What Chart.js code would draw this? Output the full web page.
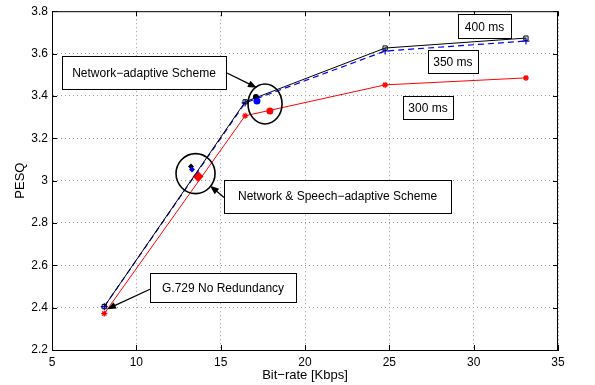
<!DOCTYPE html>
<html>
<head>
<meta charset="utf-8">
<script src="https://cdn.jsdelivr.net/npm/chart.js@4/dist/chart.umd.min.js"></script>
<style>
  html, body { margin: 0; padding: 0; background: #fff; }
</style>
</head>
<body>
<canvas id="pesqChart" width="595" height="385"></canvas>
<script>
// values
var bitrate = [8.1, 16.45, 24.75, 33.1];
var pesq400 = [2.405, 3.372, 3.626, 3.673];
var pesq350 = [2.405, 3.367, 3.612, 3.659];
var pesq300 = [2.372, 3.306, 3.452, 3.485];

// network-adaptive scheme points (black, blue, red)
var netRate = [17.09, 17.15, 17.92];
var netPesq = [3.395, 3.376, 3.329];
// network & speech-adaptive scheme points
var speechRate = [13.24, 13.3, 13.66];
var speechPesq = [3.066, 3.052, 3.019];

var xTicks = [5, 10, 15, 20, 25, 30, 35];
var yTicks = [2.2, 2.4, 2.6, 2.8, 3, 3.2, 3.4, 3.6, 3.8];

var FONT = "'Liberation Sans', Arial, sans-serif";

// callouts: text boxes placed in data units
var labels = [
  {text: 'Network\u2212adaptive Scheme', x: 10.455, y: 3.511, w: 164, h: 33},
  {text: 'Network & Speech\u2212adaptive Scheme', x: 21.93, y: 2.927, w: 227, h: 33},
  {text: 'G.729 No Redundancy', x: 15.14, y: 2.494, w: 146, h: 29},
  {text: '400 ms', x: 30.64, y: 3.729, w: 53, h: 24},
  {text: '350 ms', x: 28.77, y: 3.562, w: 50, h: 23},
  {text: '300 ms', x: 27.29, y: 3.346, w: 50, h: 23}
];
var arrows = [
  {x1: 15.375, y1: 3.508, x2: 17.15, y2: 3.438},
  {x1: 15.2, y1: 2.92, x2: 14.37, y2: 2.976},
  {x1: 10.81, y1: 2.487, x2: 8.26, y2: 2.393}
];
var circles = [
  {x: 17.63, y: 3.362, rx: 17, ry: 20},
  {x: 13.51, y: 3.033, rx: 19.5, ry: 20}
];

function pts(xs, ys) {
  return xs.map(function(v, i) { return {x: v, y: ys[i]}; });
}

var decor = {
  id: 'decor',
  afterDraw: function(chart) {
    var ctx = chart.ctx, a = chart.chartArea;
    var sx = chart.scales.x, sy = chart.scales.y;
    ctx.save();
    ctx.strokeStyle = '#000';
    ctx.lineWidth = 1;
    ctx.setLineDash([]);

    // top and right frame
    ctx.beginPath();
    ctx.moveTo(a.left, a.top + 0.5);
    ctx.lineTo(a.right - 0.5, a.top + 0.5);
    ctx.lineTo(a.right - 0.5, a.bottom);
    ctx.stroke();

    // inward tick marks
    ctx.beginPath();
    xTicks.forEach(function(t) {
      var px = Math.round(sx.getPixelForValue(t)) + 0.5;
      ctx.moveTo(px, a.bottom); ctx.lineTo(px, a.bottom - 5);
      ctx.moveTo(px, a.top); ctx.lineTo(px, a.top + 5);
    });
    yTicks.forEach(function(t) {
      var py = Math.round(sy.getPixelForValue(t)) + 0.5;
      ctx.moveTo(a.left, py); ctx.lineTo(a.left + 5, py);
      ctx.moveTo(a.right, py); ctx.lineTo(a.right - 5, py);
    });
    ctx.stroke();

    // circles round the adaptive points
    ctx.lineWidth = 1.6;
    circles.forEach(function(c) {
      ctx.beginPath();
      ctx.ellipse(sx.getPixelForValue(c.x), sy.getPixelForValue(c.y), c.rx, c.ry, 0, 0, 2 * Math.PI);
      ctx.stroke();
    });

    // arrows
    ctx.lineWidth = 1.3;
    ctx.fillStyle = '#000';
    arrows.forEach(function(r) {
      var x1 = sx.getPixelForValue(r.x1), y1 = sy.getPixelForValue(r.y1);
      var x2 = sx.getPixelForValue(r.x2), y2 = sy.getPixelForValue(r.y2);
      var ang = Math.atan2(y2 - y1, x2 - x1);
      ctx.beginPath();
      ctx.moveTo(x1, y1); ctx.lineTo(x2 - 6 * Math.cos(ang), y2 - 6 * Math.sin(ang));
      ctx.stroke();
      ctx.beginPath();
      ctx.moveTo(x2, y2);
      ctx.lineTo(x2 - 9 * Math.cos(ang) + 3.5 * Math.sin(ang), y2 - 9 * Math.sin(ang) - 3.5 * Math.cos(ang));
      ctx.lineTo(x2 - 9 * Math.cos(ang) - 3.5 * Math.sin(ang), y2 - 9 * Math.sin(ang) + 3.5 * Math.cos(ang));
      ctx.closePath();
      ctx.fill();
    });

    // text boxes
    ctx.lineWidth = 1;
    ctx.font = '12px ' + FONT;
    ctx.textAlign = 'center';
    ctx.textBaseline = 'middle';
    labels.forEach(function(l) {
      var cx = sx.getPixelForValue(l.x), cy = sy.getPixelForValue(l.y);
      var left = Math.round(cx - l.w / 2) + 0.5, top = Math.round(cy - l.h / 2) + 0.5;
      ctx.fillStyle = '#fff';
      ctx.fillRect(left, top, l.w, l.h);
      ctx.strokeRect(left, top, l.w, l.h);
      ctx.fillStyle = '#000';
      ctx.fillText(l.text, cx, cy + 1);
    });
    ctx.restore();
  }
};

var ctx = document.getElementById('pesqChart');
var chart = new Chart(ctx, {
  type: 'scatter',
  data: {
    datasets: [
      {
        label: '400 ms',
        data: pts(bitrate, pesq400),
        showLine: true,
        borderColor: '#000',
        borderWidth: 1,
        pointStyle: 'rect',
        pointRadius: 3,
        pointBorderColor: '#000',
        pointBackgroundColor: 'rgba(255,255,255,0)',
        pointBorderWidth: 1
      },
      {
        label: '350 ms',
        data: pts(bitrate, pesq350),
        showLine: true,
        borderColor: '#0000ff',
        borderWidth: 1.2,
        borderDash: [6, 4],
        pointStyle: 'cross',
        pointRadius: 3.5,
        pointBorderColor: '#0000ff',
        pointBorderWidth: 1.2
      },
      {
        label: '300 ms',
        data: pts(bitrate, pesq300),
        showLine: true,
        borderColor: '#ff0000',
        borderWidth: 1,
        pointStyle: 'star',
        pointRadius: 3,
        pointBorderColor: '#ff0000',
        pointBorderWidth: 1.2
      },
      {
        label: 'network adaptive',
        data: pts(netRate, netPesq),
        showLine: false,
        pointStyle: 'circle',
        pointRadius: [3, 3.5, 3.5],
        pointBackgroundColor: ['#000', '#0000ff', '#ff0000'],
        pointBorderColor: ['#000', '#0000ff', '#ff0000'],
        pointBorderWidth: 0
      },
      {
        label: 'network & speech adaptive',
        data: pts(speechRate, speechPesq),
        showLine: false,
        pointStyle: 'rectRot',
        pointRadius: [3, 3, 5.5],
        pointBackgroundColor: ['#000', '#0000ff', '#ff0000'],
        pointBorderColor: ['#000', '#0000ff', '#ff0000'],
        pointBorderWidth: 0
      }
    ]
  },
  options: {
    responsive: false,
    animation: false,
    events: [],
    layout: {padding: {top: 10, right: 37, left: 0, bottom: 0}},
    plugins: {
      legend: {display: false},
      tooltip: {enabled: false}
    },
    scales: {
      x: {
        type: 'linear',
        min: 5,
        max: 35,
        afterFit: function(s) { s.height = 35; },
        afterBuildTicks: function(s) { s.ticks = xTicks.map(function(v) { return {value: v}; }); },
        grid: {color: '#999', lineWidth: 1, drawTicks: false},
        border: {color: '#000', width: 1, dash: [1, 3]},
        ticks: {color: '#000', padding: 5, font: {family: FONT, size: 12}},
        title: {display: true, text: 'Bit\u2212rate [Kbps]', color: '#000', font: {family: FONT, size: 13}, padding: {top: 0, bottom: 2}}
      },
      y: {
        type: 'linear',
        min: 2.2,
        max: 3.8,
        afterFit: function(s) { s.width = 52; },
        afterBuildTicks: function(s) { s.ticks = yTicks.map(function(v) { return {value: v}; }); },
        grid: {color: '#999', lineWidth: 1, drawTicks: false},
        border: {color: '#000', width: 1, dash: [1, 3]},
        ticks: {
          color: '#000',
          padding: 4,
          font: {family: FONT, size: 12},
          callback: function(v) { return String(parseFloat(v.toFixed(1))); }
        },
        title: {display: true, text: 'PESQ', color: '#000', font: {family: FONT, size: 13}, padding: {top: 13, bottom: 0}}
      }
    }
  },
  plugins: [decor]
});
</script>
</body>
</html>
